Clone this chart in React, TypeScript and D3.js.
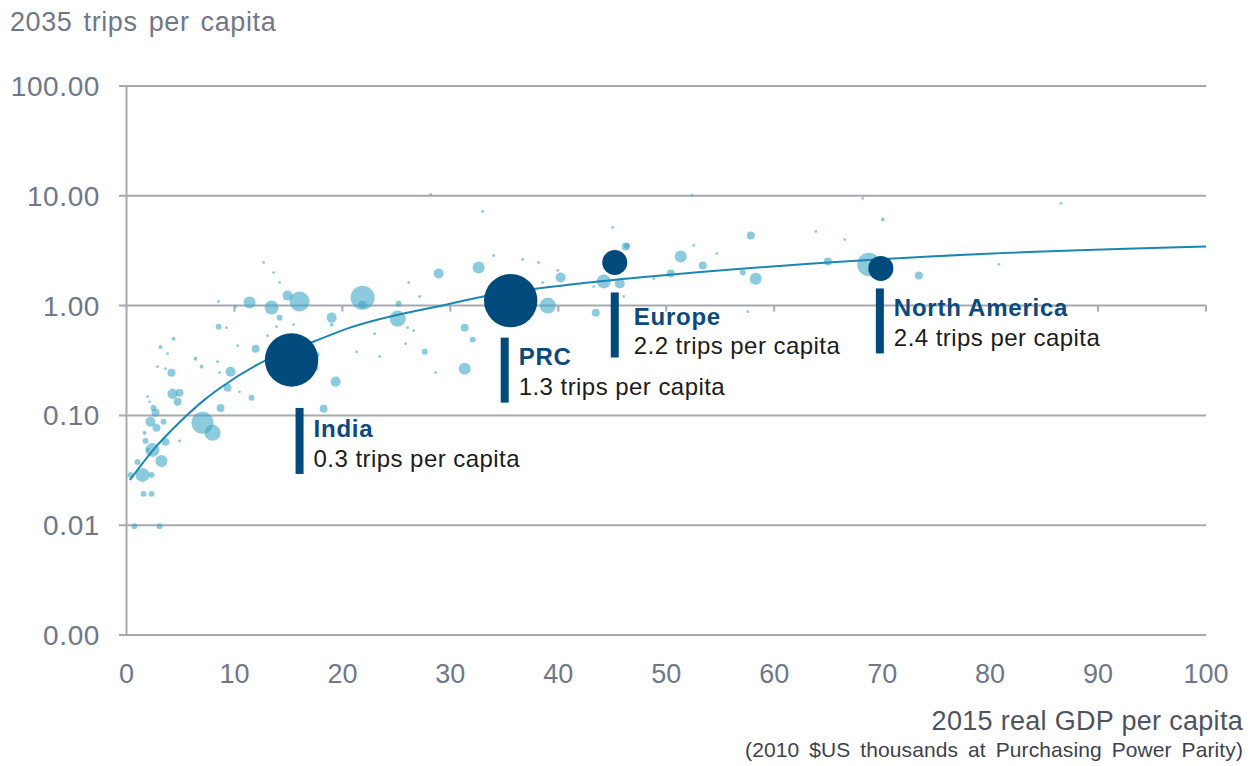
import React from "react";
import * as d3 from "d3";

// ---- Data ----
const gdp = [
  0.74, 3.06, 1.58, 2.32, 0.37, 1.48, 2.32, 1.02, 3.24, 2.41,
  1.95, 1.76, 3.61, 4.91, 1.67, 2.78, 2.22, 3.43, 2.69, 2.5,
  1.95, 2.13, 4.26, 4.91, 4.73, 7.04, 7.97, 8.71, 4.36, 3.15,
  3.8, 11.96, 10.29, 6.39, 6.95, 8.43, 2.87, 3.61, 4.17, 9.64,
  8.62, 9.36, 10.47, 11.58, 12.7, 13.62, 14.18, 8.53, 10.1, 11.4,
  13.44, 14.92, 16.03, 14.18, 19.0, 19.0, 21.87, 21.87, 26.14, 27.15,
  25.21, 25.12, 26.04, 26.6, 8.53, 9.27, 13.9, 15.48, 13.07, 22.98,
  17.61, 17.52, 19.37, 18.26, 21.32, 23.45, 25.86, 27.62, 28.64, 28.92,
  28.17, 32.99, 34.01, 36.7, 38.18, 32.62, 39.94, 40.22, 38.55, 39.02,
  31.33, 32.07, 31.33, 45.04, 46.25, 44.21, 45.69, 43.28, 46.06, 43.47,
  52.36, 57.83, 63.86, 68.21, 70.06, 66.54, 52.55, 54.68, 51.34, 53.38,
  50.42, 48.84, 57.09, 58.29, 64.97, 68.77, 57.55, 73.4, 86.56, 80.82,
  46.35,
];
const trips = [
  0.0098, 0.0098, 0.0193, 0.0193, 0.0287, 0.0287, 0.0287, 0.0377, 0.0385, 0.0485,
  0.0485, 0.0586, 0.0574, 0.0586, 0.0694, 0.077, 0.0874, 0.0874, 0.1056, 0.117,
  0.148, 0.133, 0.157, 0.161, 0.133, 0.0856, 0.0694, 0.117, 0.5, 0.42,
  0.365, 0.405, 0.431, 0.328, 0.278, 0.308, 0.278, 0.266, 0.245, 0.25,
  0.245, 0.179, 0.164, 0.145, 2.47, 2.0, 1.62, 1.09, 0.98, 1.065,
  0.959, 1.234, 1.09, 0.777, 0.777, 0.671, 1.18, 1.02, 1.62, 1.21,
  1.04, 0.761, 0.63, 0.591, 0.643, 0.63, 0.643, 0.671, 0.532, 0.555,
  0.357, 0.272, 0.203, 0.115, 0.38, 0.343, 0.45, 0.38, 0.245, 1.96,
  10.3, 7.2, 2.86, 2.63, 2.47, 2.22, 2.09, 1.8, 1.62, 1.0,
  0.63, 0.49, 0.266, 5.15, 3.45, 1.66, 1.59, 1.49, 1.21, 0.863,
  10.1, 4.35, 4.73, 9.47, 6.09, 4.0, 3.53, 2.98, 2.8, 2.32,
  1.96, 1.76, 2.0, 1.76, 2.52, 2.37, 0.88, 1.88, 8.52, 2.37,
  3.5,
];
const population = [
  16, 16, 16, 16, 16, 89, 16, 16, 66, 89,
  7, 16, 29, 4, 7, 29, 46, 16, 29, 16,
  3, 3, 46, 29, 29, 221, 117, 29, 7, 7,
  3, 29, 3, 7, 7, 3, 3, 3, 29, 46,
  3, 29, 3, 16, 3, 3, 3, 3, 3, 66,
  89, 46, 182, 16, 46, 7, 263, 29, 3, 3,
  16, 117, 3, 3, 16, 3, 3, 3, 3, 3,
  16, 16, 46, 29, 3, 3, 3, 16, 3, 46,
  3, 3, 3, 3, 3, 66, 3, 46, 3, 117,
  29, 16, 66, 3, 29, 89, 46, 3, 3, 29,
  3, 29, 3, 3, 7, 3, 3, 3, 66, 29,
  29, 3, 16, 66, 29, 250, 3, 29, 3, 3,
  16,
];

const regionNames = ["India", "PRC", "Europe", "North America"];
const regionGdp = [15.29, 35.59, 45.23, 69.88];
const regionTrips = [0.32, 1.11, 2.47, 2.18];
const regionPopulation = [1300, 1300, 285, 285];
const regionNotes = [
  "0.3 trips per capita",
  "1.3 trips per capita",
  "2.2 trips per capita",
  "2.4 trips per capita",
];

// trend line
const trendGdp = [0.32, 2.64, 4.21, 5.79, 7.27, 8.57, 12.66, 17.29, 20.72, 29.98, 33.04, 42.02, 48.5, 74.4, 100];
const trendTrips = [0.0258, 0.0506, 0.0739, 0.1045, 0.14, 0.175, 0.309, 0.469, 0.63, 1.04, 1.21, 1.59, 1.84, 2.8, 3.45];

const yTicks = [0.001, 0.01, 0.1, 1, 10, 100];
const xTicks = [0, 10, 20, 30, 40, 50, 60, 70, 80, 90, 100];

// label layout (pixel offsets from bubble centre)
const labelLayout = [
  { barDx: 4, barDy: 48, barH: 66, textDx: 18, l1: 29, l2: 59 },
  { barDx: -10, barDy: 37, barH: 65, textDx: 18, l1: 27, l2: 57 },
  { barDx: -4, barDy: 30, barH: 65, textDx: 23, l1: 33, l2: 62 },
  { barDx: -5, barDy: 20, barH: 65, textDx: 18, l1: 28, l2: 58 },
];

const W = 1254;
const H = 766;
const FONT = "'Liberation Sans', Arial, sans-serif";

export default function App() {
  const x = d3.scaleLinear().domain([0, 100]).range([126.5, 1206]);
  const y = d3.scaleLog().domain([0.001, 100]).range([635, 86]);
  const r = d3.scaleSqrt().domain([0, 1300]).range([0, 26.7]);

  const gridColor = "#a7a9b1";
  const tickColor = "#6f7889";

  const line = d3
    .line<number>()
    .x((_, i) => x(trendGdp[i]))
    .y((_, i) => y(trendTrips[i]))
    .curve(d3.curveMonotoneX);

  const fmt = d3.format(".2f");

  return (
    <svg
      width={W}
      height={H}
      style={{ position: "absolute", left: 0, top: 0, background: "#fff" }}
      fontFamily={FONT}
    >
      {/* gridlines */}
      {yTicks.map((t) => (
        <g key={"g" + t}>
          <line x1={119} x2={x(100)} y1={y(t)} y2={y(t)} stroke={gridColor} strokeWidth={2} />
          <text
            x={100}
            y={y(t)}
            dy="0.36em"
            textAnchor="end"
            fontSize={28}
            fill={tickColor}
            letterSpacing={0.6}
          >
            {fmt(t)}
          </text>
        </g>
      ))}
      {/* y axis */}
      <line x1={x(0)} x2={x(0)} y1={y(100)} y2={y(0.001) + 1} stroke={gridColor} strokeWidth={2} />
      {/* x axis ticks on the 1.00 line */}
      {xTicks.slice(1).map((t) => (
        <line key={"xt" + t} x1={x(t)} x2={x(t)} y1={y(1)} y2={y(1) + 6} stroke={gridColor} strokeWidth={2} />
      ))}
      {/* x tick labels */}
      {xTicks.map((t) => (
        <text key={"xl" + t} x={x(t)} y={683} textAnchor="middle" fontSize={27} fill={tickColor}>
          {t}
        </text>
      ))}

      {/* axis titles */}
      <text x={10} y={31} fontSize={27} fill={tickColor} letterSpacing={0.6} wordSpacing={3}>
        2035 trips per capita
      </text>
      <text x={1243} y={730} textAnchor="end" fontSize={27} fill="#4d5360" letterSpacing={0.3}>
        2015 real GDP per capita
      </text>
      <text x={1243} y={757} textAnchor="end" fontSize={21} fill="#3d424d" wordSpacing={4} letterSpacing={0.1}>
        (2010 $US thousands at Purchasing Power Parity)
      </text>

      {/* country bubbles */}
      <g>
        {gdp.map((g, i) => (
          <circle
            key={"b" + i}
            cx={x(g)}
            cy={y(trips[i])}
            r={Math.max(1.4, r(population[i]))}
            fill="#3fa7c6"
            fillOpacity={0.6}
          />
        ))}
      </g>

      {/* trend curve */}
      <path d={line(trendGdp) || ""} fill="none" stroke="#1a87b2" strokeWidth={2} />

      {/* highlighted regions */}
      {regionNames.map((name, i) => {
        const cx = x(regionGdp[i]);
        const cy = y(regionTrips[i]);
        const L = labelLayout[i];
        const bx = cx + L.barDx;
        const by = cy + L.barDy;
        return (
          <g key={name}>
            <circle cx={cx} cy={cy} r={r(regionPopulation[i])} fill="#004a7c" />
            <rect x={bx} y={by} width={8} height={L.barH} fill="#004a7c" />
            <text x={bx + L.textDx} y={by + L.l1} fontSize={24} fontWeight="bold" fill="#0b4a7e" letterSpacing={0.75}>
              {name}
            </text>
            <text x={bx + L.textDx} y={by + L.l2} fontSize={24} fill="#1c1c1c" letterSpacing={0.45}>
              {regionNotes[i]}
            </text>
          </g>
        );
      })}
    </svg>
  );
}
